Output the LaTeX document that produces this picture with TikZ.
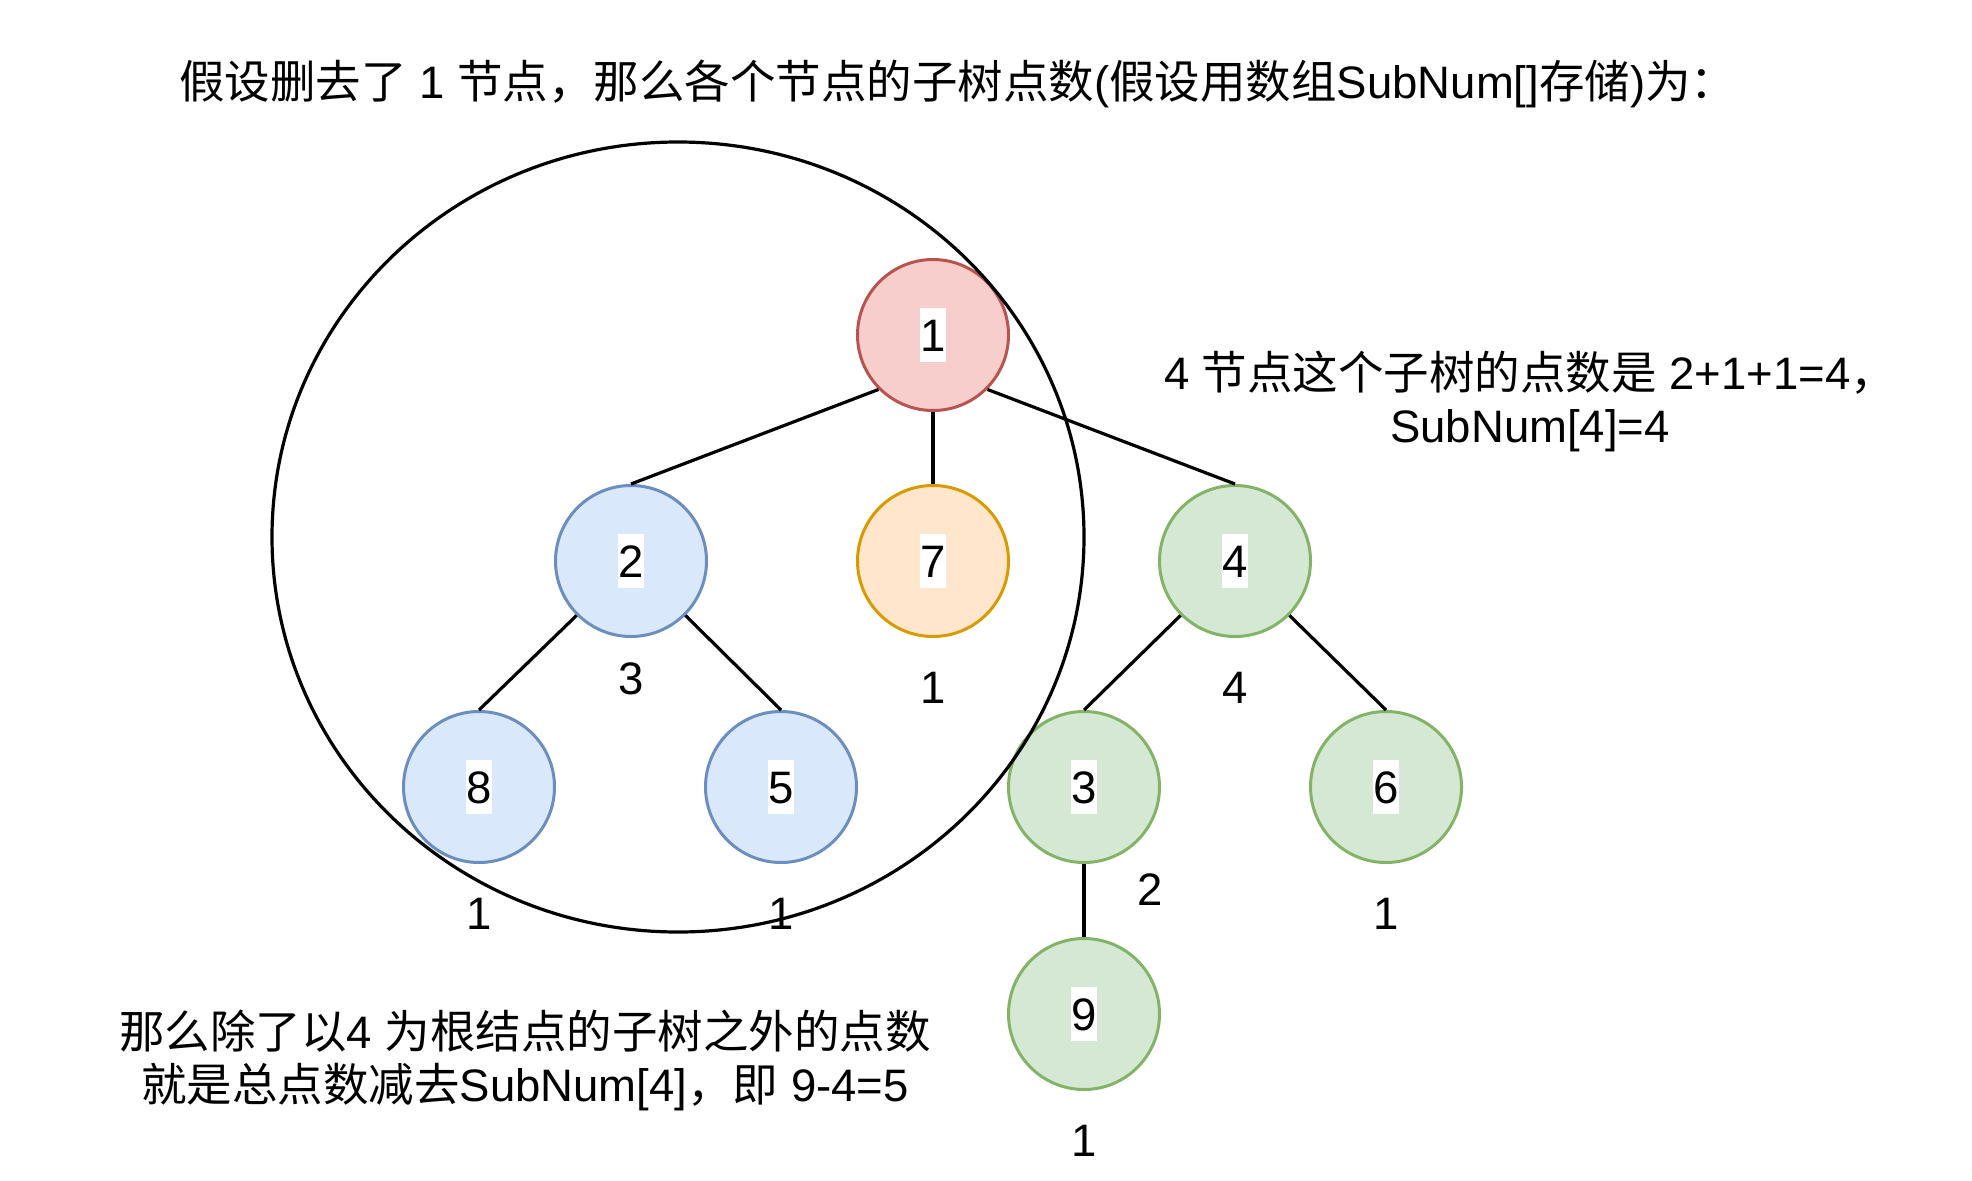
\documentclass[tikz,border=0pt]{standalone}
\usepackage{fontspec}
\setmainfont{Liberation Sans}
\newfontfamily\cjk{Noto Sans CJK SC}
\newcommand\cj[1]{{\cjk #1}}
\setlength\fboxsep{0pt}
\newcommand\wb[1]{\colorbox{white}{\rule[-11pt]{0pt}{54pt}#1}}
\definecolor{redfill}{HTML}{F8CECC}
\definecolor{redline}{HTML}{B85450}
\definecolor{bluefill}{HTML}{DAE8FC}
\definecolor{blueline}{HTML}{6C8EBF}
\definecolor{orangefill}{HTML}{FFE6CC}
\definecolor{orangeline}{HTML}{D79B00}
\definecolor{greenfill}{HTML}{D5E8D4}
\definecolor{greenline}{HTML}{82B366}
\begin{document}
\begin{tikzpicture}[x=1pt,y=-1pt,
  every node/.style={font=\fontsize{45.5}{53}\selectfont},
  tn/.style={circle, line width=3pt, minimum size=151pt, inner sep=0pt},
  rednode/.style={tn, fill=redfill, draw=redline},
  bluenode/.style={tn, fill=bluefill, draw=blueline},
  orangenode/.style={tn, fill=orangefill, draw=orangeline},
  greennode/.style={tn, fill=greenfill, draw=greenline},
  edge/.style={line width=3.2pt},
  cnt/.style={inner sep=0pt}
]
\useasboundingbox (0,0) rectangle (1972,1180);

\node[rednode] (n1) at (933,335) {\wb{1}};
\node[bluenode] (n2) at (631,561) {\wb{2}};
\node[orangenode] (n7) at (933,561) {\wb{7}};
\node[greennode] (n4) at (1235,561) {\wb{4}};
\node[bluenode] (n8) at (479,787) {\wb{8}};
\node[bluenode] (n5) at (781,787) {\wb{5}};
\node[greennode] (n3) at (1084,787) {\wb{3}};
\node[greennode] (n6) at (1386,787) {\wb{6}};
\node[greennode] (n9) at (1084,1014) {\wb{9}};

\draw[edge] (n1.225) -- (n2.north);
\draw[edge] (n1.south) -- (n7.north);
\draw[edge] (n1.-45) -- (n4.north);
\draw[edge] (n2.225) -- (n8.north);
\draw[edge] (n2.-45) -- (n5.north);
\draw[edge] (n4.225) -- (n3.north);
\draw[edge] (n4.-45) -- (n6.north);
\draw[edge] (n3.south) -- (n9.north);

\draw[line width=3.2pt] (678,537) ellipse [x radius=406pt, y radius=395pt];

\node[cnt] (c2) at (631,679) {3};
\node[cnt] (c7) at (933,688) {1};
\node[cnt] (c4) at (1235,688) {4};
\node[cnt] (c8) at (479,914) {1};
\node[cnt] (c5) at (781,914) {1};
\node[cnt] (c3) at (1150,890) {2};
\node[cnt] (c6) at (1386,914) {1};
\node[cnt] (c9) at (1084,1141) {1};

\node[anchor=west, inner sep=0pt] (title) at (179,84)
  {\cj{假设删去了} 1 \cj{节点，那么各个节点的子树点数}(\cj{假设用数组}SubNum[]\cj{存储})\cj{为：}};

\node[align=center, inner sep=0pt] (right) at (1530,401)
  {4 \cj{节点这个子树的点数是} 2+1+1=4\cj{，}\\SubNum[4]=4};

\node[align=center, inner sep=0pt] (bottom) at (525,1060)
  {\cj{那么除了以}4 \cj{为根结点的子树之外的点数}\\\cj{就是总点数减去}SubNum[4]\cj{，即} 9-4=5};
\end{tikzpicture}
\end{document}
